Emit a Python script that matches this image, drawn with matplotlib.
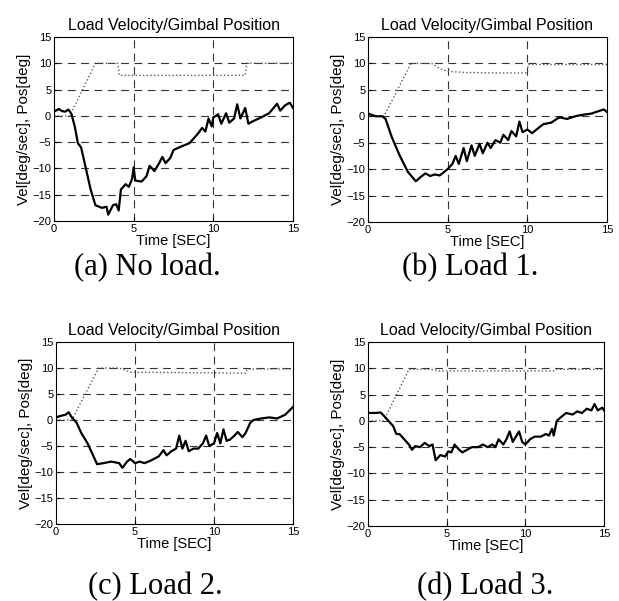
import numpy as np
import matplotlib.pyplot as plt

# panel (a) No load
vel_a_t = [0, 0.3, 0.5, 0.7, 0.9, 1.0, 1.1, 1.3, 1.5, 1.7, 2.0, 2.3, 2.6, 3.0, 3.3, 3.4, 3.7, 3.9, 4.06, 4.2,
           4.5, 4.7, 4.9, 5.0, 5.1, 5.5, 5.8, 6.0, 6.3, 6.6, 6.8, 7.0, 7.3, 7.5, 8.0, 8.5, 9.0, 9.3, 9.5,
           9.7, 9.9, 10.0, 10.3, 10.5, 10.8, 11.0, 11.3, 11.5, 11.7, 12.0, 12.2, 12.5, 13.0, 13.5, 14.0,
           14.2, 14.5, 14.8, 15.0]
vel_a = [0.8, 1.3, 0.9, 0.8, 1.2, 0.8, 0.3, -2, -5.2, -6, -10, -14, -17, -17.5, -17.3, -18.8, -17, -16.8, -18, -14,
         -13, -13.5, -12, -9.8, -12.3, -12.5, -11.5, -9.5, -10.5, -9, -7.8, -9, -8, -6.5, -5.8, -5.2, -3.5, -2.3, -3,
         -0.5, -2, -0.3, 0.3, -1.5, 0.5, -1.3, -0.5, 2.2, -0.5, 1.5, -1.5, -1.0, -0.3, 0.5, 2.3,
         1.0, 2.0, 2.5, 1.5]
pos_a_t = [0, 1.0, 2.6, 4.0, 4.1, 12.0, 12.1, 15.0]
pos_a = [0, 0, 10, 10, 7.7, 7.7, 10, 10]

# panel (b) Load 1
vel_b_t = [0, 0.5, 0.9, 1.1, 1.5, 2.0, 2.5, 3.0, 3.3, 3.6, 3.9, 4.2, 4.5, 5.0, 5.3, 5.5, 5.7, 6.0, 6.2, 6.5,
           6.7, 7.0, 7.2, 7.5, 7.7, 8.0, 8.3, 8.5, 8.8, 9.0, 9.3, 9.5, 9.7, 10.0, 10.3, 10.7, 11.0, 11.5,
           12.0, 12.5, 13.0, 13.5, 14.0, 14.5, 14.8, 15.0]
vel_b = [0.5, 0, 0, -0.5, -4, -7.5, -10.5, -12.3, -11.5, -10.8, -11.3, -11, -11.2, -10, -9, -7.5, -9, -6, -8.5, -5.5,
         -7.5, -5.2, -7, -5, -6, -4.5, -5, -3.5, -4.5, -2.8, -3.8, -1.0, -3.0, -2.5, -3.2, -2.2, -1.5, -1.2,
         -0.2, -0.5, 0, 0.3, 0.5, 1.0, 1.3, 0.8]
pos_b_t = [0, 1.0, 2.7, 4.0, 4.5, 5.0, 6.0, 8.0, 10.0, 10.05, 15.0]
pos_b = [0, 0, 10, 10, 9.0, 8.5, 8.3, 8.2, 8.2, 9.8, 9.8]

# panel (c) Load 2
vel_c_t = [0, 0.3, 0.6, 0.8, 1.0, 1.3, 1.6, 2.0, 2.3, 2.6, 3.0, 3.5, 4.0, 4.2, 4.5, 4.7, 5.0, 5.3, 5.6, 6.0,
           6.5, 6.8, 7.0, 7.3, 7.6, 7.8, 8.0, 8.2, 8.4, 8.7, 9.0, 9.3, 9.5, 9.7, 10.0, 10.2, 10.4, 10.6,
           10.8, 11.0, 11.3, 11.5, 11.8, 12.0, 12.3, 12.5, 13.0, 13.5, 14.0, 14.5, 15.0]
vel_c = [0.5, 0.8, 1.0, 1.5, 0.5, -0.5, -2.5, -4.5, -6.5, -8.5, -8.3, -8.0, -8.3, -9.2, -8, -7.5, -8.3, -8, -8.3, -7.8,
         -7, -5.8, -6.8, -6, -5.5, -3, -5.5, -4, -6, -5.5, -5.5, -4.5, -3.0, -5, -4.5, -2.5, -4.5, -1.8,
         -4, -3.8, -3, -2.3, -3.3, -2.5, -0.5, 0, 0.3, 0.5, 0.3, 1.0, 2.5]
pos_c_t = [0, 1.0, 2.7, 4.0, 4.7, 12.0, 12.1, 15.0]
pos_c = [0, 0, 10, 10, 9.2, 9.0, 9.8, 9.8]

# panel (d) Load 3
vel_d_t = [0, 0.5, 0.8, 1.0, 1.3, 1.6, 1.8, 2.0, 2.3, 2.6, 2.8, 3.0, 3.3, 3.6, 3.9, 4.1, 4.3, 4.6, 4.9, 5.1,
           5.3, 5.5, 5.8, 6.0, 6.3, 6.6, 7.0, 7.3, 7.6, 7.9, 8.1, 8.3, 8.6, 8.8, 9.0, 9.2, 9.4, 9.6, 9.8,
           10.0, 10.3, 10.6, 11.0, 11.3, 11.5, 11.7, 11.8, 12.0, 12.3, 12.6, 13.0, 13.3, 13.6, 13.9, 14.2,
           14.4, 14.6, 14.9, 15.0]
vel_d = [1.5, 1.5, 1.6, 1, 0, -1, -2.5, -2.5, -3.5, -4.5, -5.5, -4.8, -5, -4.2, -4.8, -4.5, -7.5, -6.5, -6.8, -5.8,
         -6, -4.5, -5.5, -6, -5.5, -5, -5, -4.5, -5, -4.5, -5, -3.5, -4.5, -3.5, -2, -4, -3, -2, -4,
         -4.5, -3.5, -3, -3, -2.5, -2.8, -1.5, -2.8, 0, 0.8, 1.5, 1.2, 1.8, 1.5, 2.3, 2.0,
         3.2, 2, 2.5, 2]
pos_d_t = [0, 1.0, 2.6, 4.0, 4.5, 11.8, 12.0, 15.0]
pos_d = [0, 0, 9.8, 9.8, 9.5, 9.5, 9.8, 9.8]

panels = [
    (vel_a_t, vel_a, pos_a_t, pos_a, '(a) No load.'),
    (vel_b_t, vel_b, pos_b_t, pos_b, '(b) Load 1.'),
    (vel_c_t, vel_c, pos_c_t, pos_c, '(c) Load 2.'),
    (vel_d_t, vel_d, pos_d_t, pos_d, '(d) Load 3.'),
]

# axes rectangles in pixels: left, right, top, bottom
boxes = [(54, 293, 37, 221), (368, 607, 37, 222), (56, 293, 342, 524), (368, 604, 342, 526)]
caption_xy = [(147, 268), (470, 268), (155, 587), (485, 587)]

W, H = 619, 601
fig = plt.figure(figsize=(W / 100, H / 100), dpi=100)
plt.rcParams['font.family'] = 'Liberation Sans'

for (vt, v, pt, p, cap), (l, r, t, b), (cx, cy) in zip(panels, boxes, caption_xy):
    ax = fig.add_axes([l / W, 1 - b / H, (r - l) / W, (b - t) / H])
    ax.plot(pt, p, ':', color='0.35', lw=1.0)
    ax.plot(vt, v, '-', color='black', lw=1.6)
    ax.set_xlim(0, 15)
    ax.set_ylim(-20, 15)
    ax.set_xticks([0, 5, 10, 15])
    ax.set_yticks([-20, -15, -10, -5, 0, 5, 10, 15])
    for yy in [-15, -10, -5, 0, 5, 10]:
        ax.axhline(yy, color='0.2', lw=0.8, linestyle=(0, (7, 5)), zorder=0)
    for xx in [5, 10]:
        ax.axvline(xx, color='0.2', lw=0.8, linestyle=(0, (7, 5)), zorder=0)
    ax.tick_params(direction='in', length=3, labelsize=8, pad=2)
    for s in ax.spines.values():
        s.set_linewidth(0.8)
    ax.set_title('Load Velocity/Gimbal Position', fontsize=11.5, pad=5)
    ax.set_xlabel('Time [SEC]', fontsize=10.5, labelpad=0)
    ax.set_ylabel('Vel[deg/sec], Pos[deg]', fontsize=11, labelpad=1)
    fig.text(cx / W, 1 - cy / H, cap, ha='center', va='center',
             fontsize=22, family='Liberation Serif')

fig.savefig('out.png', dpi=100)
